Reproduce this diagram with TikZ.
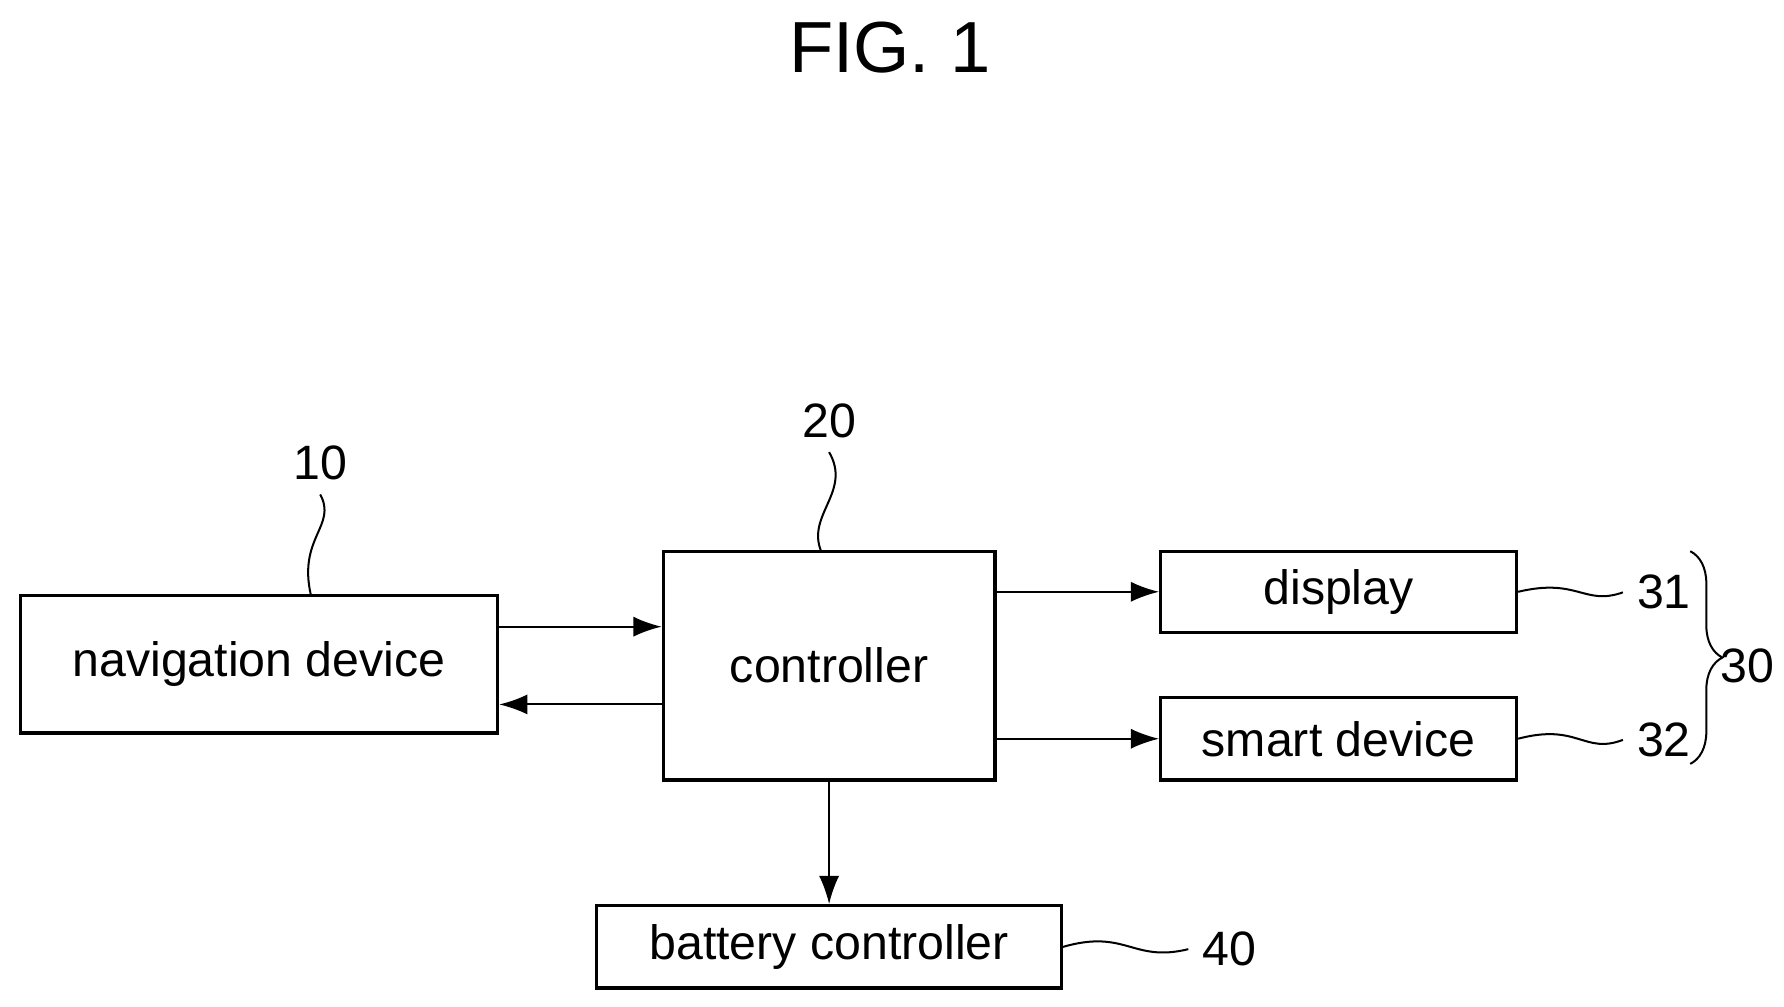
\documentclass[tikz,border=0pt]{standalone}
\usepackage{fontspec}
\setmainfont{Liberation Sans}
\usetikzlibrary{arrows.meta,decorations.pathreplacing}
\begin{document}
\begin{tikzpicture}[x=0.01cm,y=-0.01cm,
  box/.style={draw,line width=0.8pt,inner sep=0pt,font=\fontsize{12}{14}\selectfont},
  arr/.style={line width=0.5pt,-{Latex[length=7pt,width=5pt]}},
  lead/.style={line width=0.5pt},
  num/.style={font=\fontsize{12}{14}\selectfont}]
\useasboundingbox (0,0) rectangle (1560,880);
\node[font=\fontsize{18}{20}\selectfont] (fig) at (778,42) {FIG. 1};
\node[box,minimum width=417\pgflinewidth*0+4.17cm,minimum height=1.2cm] (nav) at (226.5,581) {navigation device};
\node[box,minimum width=2.9cm,minimum height=2cm] (ctrl) at (725,582) {controller};
\node[box,minimum width=3.11cm,minimum height=0.71cm] (disp) at (1170.5,517.5) {display};
\node[box,minimum width=3.11cm,minimum height=0.72cm] (smart) at (1170.5,646) {smart device};
\node[box,minimum width=4.06cm,minimum height=0.72cm] (bat) at (725,828) {battery controller};
\draw[arr] (nav.east|-0,548) -- (ctrl.west|-0,548);
\draw[arr] (ctrl.west|-0,616) -- (nav.east|-0,616);
\draw[arr] (ctrl.east|-disp.west) -- (disp.west);
\draw[arr] (ctrl.east|-smart.west) -- (smart.west);
\draw[arr] (ctrl.south) -- (bat.north);
\node[num] (n10) at (280,405) {10};
\node[num] (n20) at (725,368) {20};
\node[num] (n31) at (1455,518) {31};
\node[num] (n32) at (1455,647) {32};
\node[num] (n40) at (1075,830) {40};
\node[num] (n30) at (1528,582) {30};
\coordinate (c10) at (272,521);
\coordinate (c20) at (718,482);
\draw[lead] (n10.south) .. controls (295,460) and (260,470) .. (c10);
\draw[lead] (n20.south) .. controls (745,430) and (705,450) .. (c20);
\draw[lead] (disp.east) .. controls (1380,505) and (1385,530) .. (n31.west);
\draw[lead] (smart.east) .. controls (1380,632) and (1385,660) .. (n32.west);
\draw[lead] (bat.east) .. controls (985,812) and (990,842) .. (n40.west);
\draw[lead,decorate,decoration={brace,amplitude=8pt}] (1478,482) -- (1478,668);
\end{tikzpicture}
\end{document}
